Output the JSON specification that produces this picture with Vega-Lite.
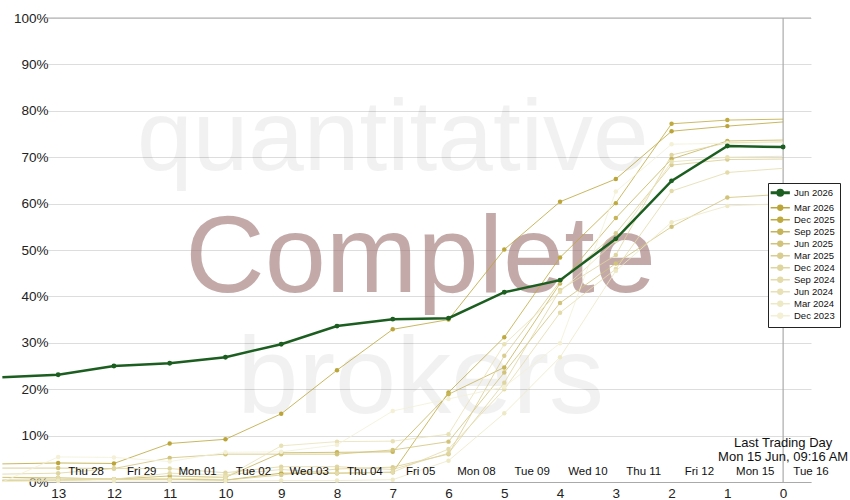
{
  "$schema": "https://vega.github.io/schema/vega-lite/v6.json",
  "autosize": {"type": "none"},
  "padding": {"left": 47, "top": 18, "right": 39, "bottom": 18},
  "width": 764,
  "height": 464,
  "background": "white",
  "config": {
    "view": {"stroke": null},
    "font": "Liberation Sans",
    "axis": {"labelFont": "Liberation Sans", "labelColor": "#222"}
  },
  "datasets": {
    "rolls": [
      {"series": "Jun 2026", "d": 14, "pct": 22.6}, {"series": "Jun 2026", "d": 13, "pct": 23.1}, {"series": "Jun 2026", "d": 12, "pct": 25.0},
      {"series": "Jun 2026", "d": 11, "pct": 25.6}, {"series": "Jun 2026", "d": 10, "pct": 26.9}, {"series": "Jun 2026", "d": 9, "pct": 29.7},
      {"series": "Jun 2026", "d": 8, "pct": 33.6}, {"series": "Jun 2026", "d": 7, "pct": 35.1}, {"series": "Jun 2026", "d": 6, "pct": 35.3},
      {"series": "Jun 2026", "d": 5, "pct": 40.9}, {"series": "Jun 2026", "d": 4, "pct": 43.5}, {"series": "Jun 2026", "d": 3, "pct": 52.4},
      {"series": "Jun 2026", "d": 2, "pct": 64.9}, {"series": "Jun 2026", "d": 1, "pct": 72.4}, {"series": "Jun 2026", "d": 0, "pct": 72.2},

      {"series": "Mar 2026", "d": 14, "pct": 3.9}, {"series": "Mar 2026", "d": 13, "pct": 4.1}, {"series": "Mar 2026", "d": 12, "pct": 4.0},
      {"series": "Mar 2026", "d": 11, "pct": 8.3}, {"series": "Mar 2026", "d": 10, "pct": 9.2}, {"series": "Mar 2026", "d": 9, "pct": 14.7},
      {"series": "Mar 2026", "d": 8, "pct": 24.1}, {"series": "Mar 2026", "d": 7, "pct": 32.9}, {"series": "Mar 2026", "d": 6, "pct": 35.0},
      {"series": "Mar 2026", "d": 5, "pct": 50.1}, {"series": "Mar 2026", "d": 4, "pct": 60.4}, {"series": "Mar 2026", "d": 3, "pct": 65.3},
      {"series": "Mar 2026", "d": 2, "pct": 75.6}, {"series": "Mar 2026", "d": 1, "pct": 76.7}, {"series": "Mar 2026", "d": 0, "pct": 77.6},

      {"series": "Dec 2025", "d": 14, "pct": 0.3}, {"series": "Dec 2025", "d": 13, "pct": 0.4}, {"series": "Dec 2025", "d": 12, "pct": 0.6},
      {"series": "Dec 2025", "d": 11, "pct": 0.6}, {"series": "Dec 2025", "d": 10, "pct": 0.4}, {"series": "Dec 2025", "d": 9, "pct": 1.9},
      {"series": "Dec 2025", "d": 8, "pct": 1.9}, {"series": "Dec 2025", "d": 7, "pct": 2.1}, {"series": "Dec 2025", "d": 6, "pct": 19.3},
      {"series": "Dec 2025", "d": 5, "pct": 31.2}, {"series": "Dec 2025", "d": 4, "pct": 48.4}, {"series": "Dec 2025", "d": 3, "pct": 60.1},
      {"series": "Dec 2025", "d": 2, "pct": 77.2}, {"series": "Dec 2025", "d": 1, "pct": 78.0}, {"series": "Dec 2025", "d": 0, "pct": 78.2},

      {"series": "Sep 2025", "d": 14, "pct": 1.0}, {"series": "Sep 2025", "d": 13, "pct": 0.9}, {"series": "Sep 2025", "d": 12, "pct": 0.6},
      {"series": "Sep 2025", "d": 11, "pct": 1.3}, {"series": "Sep 2025", "d": 10, "pct": 1.0}, {"series": "Sep 2025", "d": 9, "pct": 6.3},
      {"series": "Sep 2025", "d": 8, "pct": 6.4}, {"series": "Sep 2025", "d": 7, "pct": 6.5}, {"series": "Sep 2025", "d": 6, "pct": 18.9},
      {"series": "Sep 2025", "d": 5, "pct": 24.7}, {"series": "Sep 2025", "d": 4, "pct": 42.8}, {"series": "Sep 2025", "d": 3, "pct": 56.9},
      {"series": "Sep 2025", "d": 2, "pct": 69.6}, {"series": "Sep 2025", "d": 1, "pct": 73.5}, {"series": "Sep 2025", "d": 0, "pct": 73.7},

      {"series": "Jun 2025", "d": 14, "pct": 3.0}, {"series": "Jun 2025", "d": 13, "pct": 3.0}, {"series": "Jun 2025", "d": 12, "pct": 2.9},
      {"series": "Jun 2025", "d": 11, "pct": 5.2}, {"series": "Jun 2025", "d": 10, "pct": 6.0}, {"series": "Jun 2025", "d": 9, "pct": 6.0},
      {"series": "Jun 2025", "d": 8, "pct": 6.0}, {"series": "Jun 2025", "d": 7, "pct": 6.9}, {"series": "Jun 2025", "d": 6, "pct": 8.7},
      {"series": "Jun 2025", "d": 5, "pct": 23.6}, {"series": "Jun 2025", "d": 4, "pct": 38.6}, {"series": "Jun 2025", "d": 3, "pct": 47.1},
      {"series": "Jun 2025", "d": 2, "pct": 55.0}, {"series": "Jun 2025", "d": 1, "pct": 61.3}, {"series": "Jun 2025", "d": 0, "pct": 62.0},

      {"series": "Mar 2025", "d": 14, "pct": 0.3}, {"series": "Mar 2025", "d": 13, "pct": 0.4}, {"series": "Mar 2025", "d": 12, "pct": 0.6},
      {"series": "Mar 2025", "d": 11, "pct": 0.6}, {"series": "Mar 2025", "d": 10, "pct": 0.4}, {"series": "Mar 2025", "d": 9, "pct": 1.5},
      {"series": "Mar 2025", "d": 8, "pct": 2.8}, {"series": "Mar 2025", "d": 7, "pct": 3.2}, {"series": "Mar 2025", "d": 6, "pct": 6.0},
      {"series": "Mar 2025", "d": 5, "pct": 27.2}, {"series": "Mar 2025", "d": 4, "pct": 43.2}, {"series": "Mar 2025", "d": 3, "pct": 53.6},
      {"series": "Mar 2025", "d": 2, "pct": 68.3}, {"series": "Mar 2025", "d": 1, "pct": 69.5}, {"series": "Mar 2025", "d": 0, "pct": 69.6},

      {"series": "Dec 2024", "d": 14, "pct": 1.7}, {"series": "Dec 2024", "d": 13, "pct": 1.9}, {"series": "Dec 2024", "d": 12, "pct": 2.9},
      {"series": "Dec 2024", "d": 11, "pct": 2.9}, {"series": "Dec 2024", "d": 10, "pct": 2.0}, {"series": "Dec 2024", "d": 9, "pct": 3.3},
      {"series": "Dec 2024", "d": 8, "pct": 3.3}, {"series": "Dec 2024", "d": 7, "pct": 2.7}, {"series": "Dec 2024", "d": 6, "pct": 6.2},
      {"series": "Dec 2024", "d": 5, "pct": 21.4}, {"series": "Dec 2024", "d": 4, "pct": 41.4}, {"series": "Dec 2024", "d": 3, "pct": 48.9},
      {"series": "Dec 2024", "d": 2, "pct": 70.5}, {"series": "Dec 2024", "d": 1, "pct": 73.1}, {"series": "Dec 2024", "d": 0, "pct": 73.3},

      {"series": "Sep 2024", "d": 14, "pct": 0.5}, {"series": "Sep 2024", "d": 13, "pct": 0.9}, {"series": "Sep 2024", "d": 12, "pct": 0.6},
      {"series": "Sep 2024", "d": 11, "pct": 1.9}, {"series": "Sep 2024", "d": 10, "pct": 1.5}, {"series": "Sep 2024", "d": 9, "pct": 2.7},
      {"series": "Sep 2024", "d": 8, "pct": 1.9}, {"series": "Sep 2024", "d": 7, "pct": 2.1}, {"series": "Sep 2024", "d": 6, "pct": 7.1},
      {"series": "Sep 2024", "d": 5, "pct": 20.0}, {"series": "Sep 2024", "d": 4, "pct": 36.5}, {"series": "Sep 2024", "d": 3, "pct": 45.9},
      {"series": "Sep 2024", "d": 2, "pct": 62.7}, {"series": "Sep 2024", "d": 1, "pct": 66.7}, {"series": "Sep 2024", "d": 0, "pct": 67.6},

      {"series": "Jun 2024", "d": 14, "pct": 0.4}, {"series": "Jun 2024", "d": 13, "pct": 0.4}, {"series": "Jun 2024", "d": 12, "pct": 0.6},
      {"series": "Jun 2024", "d": 11, "pct": 0.6}, {"series": "Jun 2024", "d": 10, "pct": 1.0}, {"series": "Jun 2024", "d": 9, "pct": 7.8},
      {"series": "Jun 2024", "d": 8, "pct": 8.7}, {"series": "Jun 2024", "d": 7, "pct": 8.8}, {"series": "Jun 2024", "d": 6, "pct": 10.3},
      {"series": "Jun 2024", "d": 5, "pct": 29.7}, {"series": "Jun 2024", "d": 4, "pct": 41.0}, {"series": "Jun 2024", "d": 3, "pct": 52.0},
      {"series": "Jun 2024", "d": 2, "pct": 69.0}, {"series": "Jun 2024", "d": 1, "pct": 70.0}, {"series": "Jun 2024", "d": 0, "pct": 70.2},

      {"series": "Mar 2024", "d": 14, "pct": 0.1}, {"series": "Mar 2024", "d": 13, "pct": 0.2}, {"series": "Mar 2024", "d": 12, "pct": 0.2},
      {"series": "Mar 2024", "d": 11, "pct": 0.2}, {"series": "Mar 2024", "d": 10, "pct": 0.2}, {"series": "Mar 2024", "d": 9, "pct": 0.3},
      {"series": "Mar 2024", "d": 8, "pct": 0.3}, {"series": "Mar 2024", "d": 7, "pct": 0.5}, {"series": "Mar 2024", "d": 6, "pct": 4.6},
      {"series": "Mar 2024", "d": 5, "pct": 14.8}, {"series": "Mar 2024", "d": 4, "pct": 26.9}, {"series": "Mar 2024", "d": 3, "pct": 45.5},
      {"series": "Mar 2024", "d": 2, "pct": 56.0}, {"series": "Mar 2024", "d": 1, "pct": 59.5}, {"series": "Mar 2024", "d": 0, "pct": 60.0},

      {"series": "Dec 2023", "d": 14, "pct": 0.0}, {"series": "Dec 2023", "d": 13, "pct": 5.4}, {"series": "Dec 2023", "d": 12, "pct": 5.3},
      {"series": "Dec 2023", "d": 11, "pct": 4.4}, {"series": "Dec 2023", "d": 10, "pct": 6.4}, {"series": "Dec 2023", "d": 9, "pct": 6.5},
      {"series": "Dec 2023", "d": 8, "pct": 8.0}, {"series": "Dec 2023", "d": 7, "pct": 15.3}, {"series": "Dec 2023", "d": 6, "pct": 17.9},
      {"series": "Dec 2023", "d": 5, "pct": 20.5}, {"series": "Dec 2023", "d": 4, "pct": 29.9}, {"series": "Dec 2023", "d": 3, "pct": 62.6},
      {"series": "Dec 2023", "d": 2, "pct": 72.8}, {"series": "Dec 2023", "d": 1, "pct": 73.0}, {"series": "Dec 2023", "d": 0, "pct": 73.2}
    ],
    "days": [
      {"d": 12.5, "day": "Thu 28"}, {"d": 11.5, "day": "Fri 29"}, {"d": 10.5, "day": "Mon 01"}, {"d": 9.5, "day": "Tue 02"},
      {"d": 8.5, "day": "Wed 03"}, {"d": 7.5, "day": "Thu 04"}, {"d": 6.5, "day": "Fri 05"}, {"d": 5.5, "day": "Mon 08"},
      {"d": 4.5, "day": "Tue 09"}, {"d": 3.5, "day": "Wed 10"}, {"d": 2.5, "day": "Thu 11"}, {"d": 1.5, "day": "Fri 12"},
      {"d": 0.5, "day": "Mon 15"}, {"d": -0.5, "day": "Tue 16"}
    ],
    "marks": [
      {"word": "quantitative", "d": 7, "pct": 67.2, "size": 100, "kind": "grey"},
      {"word": "Complete", "d": 6.5, "pct": 40.9, "size": 110, "kind": "rose"},
      {"word": "brokers", "d": 6.5, "pct": 14.9, "size": 110, "kind": "grey"}
    ]
  },
  "layer": [
    {
      "data": {"name": "marks"},
      "transform": [{"filter": "datum.kind == 'grey'"}],
      "mark": {"type": "text", "align": "center", "baseline": "alphabetic", "font": "Liberation Sans", "color": "#000000", "opacity": 0.05},
      "encoding": {
        "x": {"field": "d", "type": "quantitative"},
        "y": {"field": "pct", "type": "quantitative"},
        "text": {"field": "word"},
        "size": {"field": "size", "type": "quantitative", "scale": null}
      }
    },
    {
      "data": {"name": "marks"},
      "transform": [{"filter": "datum.kind == 'rose'"}],
      "mark": {"type": "text", "align": "center", "baseline": "alphabetic", "font": "Liberation Sans", "color": "#9d7171", "opacity": 0.6},
      "encoding": {
        "x": {"field": "d", "type": "quantitative"},
        "y": {"field": "pct", "type": "quantitative"},
        "text": {"field": "word"},
        "size": {"field": "size", "type": "quantitative", "scale": null}
      }
    },
    {
      "data": {"values": [{}]},
      "mark": {"type": "rule", "color": "#aaaaaa", "strokeWidth": 1},
      "encoding": {"y": {"datum": 100}}
    },
    {
      "data": {"values": [{}]},
      "mark": {"type": "rule", "color": "#aaaaaa", "strokeWidth": 1.2},
      "encoding": {"x": {"datum": 0}}
    },
    {
      "data": {"name": "rolls"},
      "transform": [{"filter": "datum.series != 'Jun 2026'"}],
      "mark": {"type": "line", "strokeWidth": 1, "strokeOpacity": 0.8},
      "encoding": {
        "x": {
          "field": "d", "type": "quantitative",
          "scale": {"domain": [-0.5, 13.2], "reverse": true, "nice": false, "zero": false},
          "axis": {
            "values": [0, 1, 2, 3, 4, 5, 6, 7, 8, 9, 10, 11, 12, 13],
            "format": "d",
            "title": null, "grid": false, "ticks": false,
            "labelFontSize": 13.5, "labelPadding": 4,
            "domainColor": "#aaaaaa", "labelFlush": false
          }
        },
        "y": {
          "field": "pct", "type": "quantitative",
          "scale": {"domain": [0, 100], "nice": false},
          "axis": {
            "values": [0, 10, 20, 30, 40, 50, 60, 70, 80, 90, 100],
            "labelExpr": "datum.value + '%'",
            "title": null, "domain": false, "ticks": false,
            "labelFontSize": 13.5, "labelPadding": -1,
            "gridColor": "#dddddd", "labelFlush": false
          }
        },
        "color": {
          "field": "series", "type": "nominal",
          "scale": {
            "domain": ["Jun 2026", "Mar 2026", "Dec 2025", "Sep 2025", "Jun 2025", "Mar 2025", "Dec 2024", "Sep 2024", "Jun 2024", "Mar 2024", "Dec 2023"],
            "range": ["#1b5e20", "#bba538", "#bfaa40", "#c6b459", "#d1c379", "#d9cd91", "#dfd59f", "#e4dbaa", "#e8e1b5", "#eee9c5", "#f3f0d6"]
          },
          "legend": {
            "title": null,
            "orient": "none", "legendX": 721, "legendY": 165,
            "fillColor": "white", "strokeColor": "#222222", "padding": 5,
            "labelFontSize": 9.5, "labelColor": "#111", "labelOffset": 9,
            "rowPadding": 0, "symbolSize": 64, "symbolOffset": 2.5,
            "symbolType": "M-2.4,0L2.4,0M-0.6,0A0.6,0.6,0,1,0,0.6,0A0.6,0.6,0,1,0,-0.6,0Z",
            "encode": {
              "symbols": {
                "update": {
                  "fill": {"signal": "scale('color', datum.value)"},
                  "stroke": {"signal": "scale('color', datum.value)"},
                  "strokeWidth": {"signal": "datum.value == 'Jun 2026' ? 3 : 1.5"}
                }
              }
            }
          }
        },
        "order": {"field": "d", "type": "quantitative"}
      }
    },
    {
      "data": {"name": "rolls"},
      "transform": [{"filter": "datum.series != 'Jun 2026' && datum.d >= 1 && datum.d <= 13"}],
      "mark": {"type": "circle", "size": 20, "opacity": 1},
      "encoding": {
        "x": {"field": "d", "type": "quantitative"},
        "y": {"field": "pct", "type": "quantitative"},
        "color": {"field": "series", "type": "nominal"}
      }
    },
    {
      "data": {"name": "rolls"},
      "transform": [{"filter": "datum.series == 'Jun 2026'"}],
      "mark": {"type": "line", "strokeWidth": 2.5},
      "encoding": {
        "x": {"field": "d", "type": "quantitative"},
        "y": {"field": "pct", "type": "quantitative"},
        "color": {"field": "series", "type": "nominal"},
        "order": {"field": "d", "type": "quantitative"}
      }
    },
    {
      "data": {"name": "rolls"},
      "transform": [{"filter": "datum.series == 'Jun 2026' && datum.d <= 13"}],
      "mark": {"type": "circle", "size": 24, "opacity": 1},
      "encoding": {
        "x": {"field": "d", "type": "quantitative"},
        "y": {"field": "pct", "type": "quantitative"},
        "color": {"field": "series", "type": "nominal"}
      }
    },
    {
      "data": {"name": "days"},
      "mark": {"type": "text", "align": "center", "baseline": "middle", "fontSize": 11.5, "color": "#111", "font": "Liberation Sans"},
      "encoding": {
        "x": {"field": "d", "type": "quantitative"},
        "y": {"datum": 2.1},
        "text": {"field": "day"}
      }
    },
    {
      "data": {"values": [{"d": 0, "pct": 7.5, "note": "Last Trading Day\nMon 15 Jun, 09:16 AM"}]},
      "mark": {"type": "text", "align": "center", "baseline": "alphabetic", "fontSize": 13, "lineHeight": 14, "lineBreak": "\n", "color": "#111", "font": "Liberation Sans"},
      "encoding": {
        "x": {"field": "d", "type": "quantitative"},
        "y": {"field": "pct", "type": "quantitative"},
        "text": {"field": "note"}
      }
    }
  ]
}
